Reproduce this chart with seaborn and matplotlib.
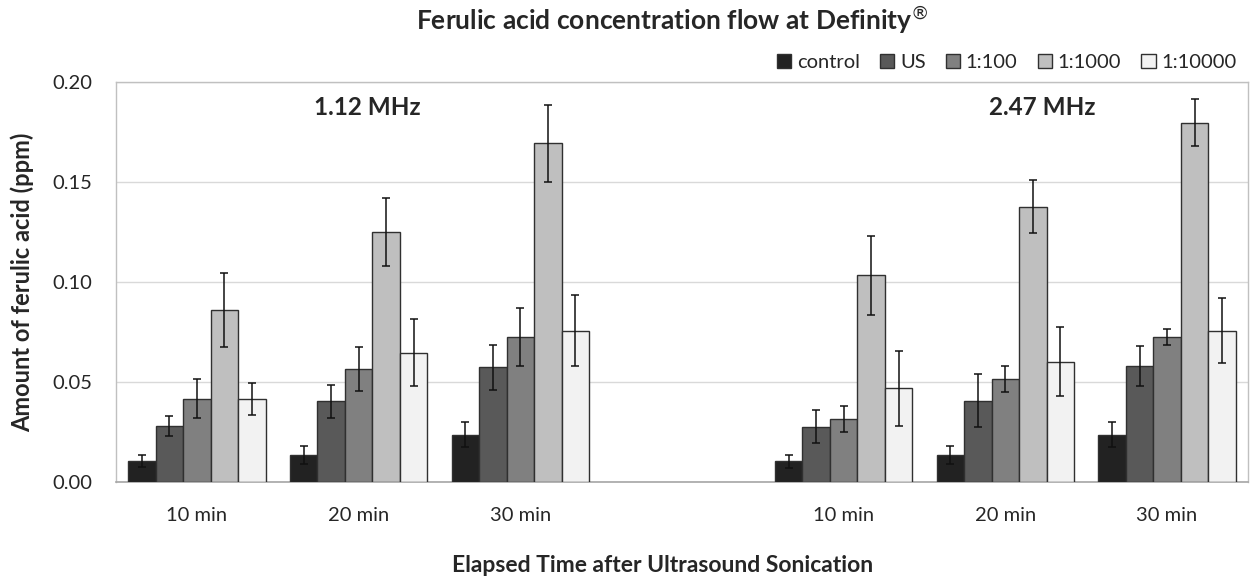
import numpy as np
import pandas as pd
import seaborn as sns
import matplotlib
matplotlib.use("Agg")
import matplotlib.pyplot as plt

# categories on the x axis (one empty slot between the two frequencies)
cat_keys = ["a10", "a20", "a30", "gap", "b10", "b20", "b30"]
cat_labels = ["10 min", "20 min", "30 min", "", "10 min", "20 min", "30 min"]
data_keys = ["a10", "a20", "a30", "b10", "b20", "b30"]
series = ["control", "US", "1:100", "1:1000", "1:10000"]
colors = ["#222222", "#595959", "#808080", "#bfbfbf", "#f2f2f2"]

# mean values (ppm), one list per series, over data_keys
control = [0.0103, 0.0135, 0.0237, 0.0103, 0.0135, 0.0237]
us = [0.0282, 0.0403, 0.0573, 0.0277, 0.0407, 0.0578]
d100 = [0.0417, 0.0565, 0.0725, 0.0315, 0.0513, 0.0727]
d1000 = [0.0860, 0.1250, 0.1693, 0.1033, 0.1377, 0.1797]
d10000 = [0.0417, 0.0647, 0.0757, 0.0468, 0.0602, 0.0757]

# error bar half widths
control_err = [0.0030, 0.0044, 0.0064, 0.0032, 0.0044, 0.0064]
us_err = [0.0050, 0.0084, 0.0113, 0.0083, 0.0132, 0.0100]
d100_err = [0.0098, 0.0110, 0.0144, 0.0064, 0.0065, 0.0040]
d1000_err = [0.0187, 0.0168, 0.0193, 0.0197, 0.0132, 0.0116]
d10000_err = [0.0080, 0.0166, 0.0177, 0.0186, 0.0174, 0.0161]

values = [control, us, d100, d1000, d10000]
errors = [control_err, us_err, d100_err, d1000_err, d10000_err]

rows = []
for s, vals, errs in zip(series, values, errors):
    for k, v, e in zip(data_keys, vals, errs):
        rows.append({"time": k, "series": s, "value": v, "err": e})
df = pd.DataFrame(rows)

sns.set_theme(style="white")
plt.rcParams["font.family"] = ["Lato", "DejaVu Sans"]

fig = plt.figure(figsize=(12.56, 5.8), dpi=100)
ax = fig.add_axes([0.0924, 0.169, 0.9012, 0.6896])

sns.barplot(data=df, x="time", y="value", hue="series", order=cat_keys,
            hue_order=series, palette=colors, errorbar=None, width=0.85,
            edgecolor="#303030", linewidth=1.0, ax=ax, zorder=3)

# error bars, matched to each bar by position
for s, cont in zip(series, ax.containers):
    sub = df[df["series"] == s].set_index("time")
    for bar in cont:
        xc = bar.get_x() + bar.get_width() / 2
        key = cat_keys[int(round(xc))]
        if key not in sub.index:
            continue
        ax.errorbar(xc, sub.loc[key, "value"], yerr=sub.loc[key, "err"],
                    fmt="none", ecolor="#111111", elinewidth=1.1,
                    capsize=3, capthick=1.1, zorder=4)

ax.set_ylim(0, 0.20)
ax.set_yticks([0.0, 0.05, 0.10, 0.15, 0.20])
ax.set_yticklabels(["%.2f" % t for t in [0.0, 0.05, 0.10, 0.15, 0.20]])
ax.set_xlim(-0.5, len(cat_keys) - 0.5)
ax.set_xticks(range(len(cat_keys)))
ax.set_xticklabels(cat_labels)
ax.tick_params(axis="x", length=0, pad=18, labelsize=14.5)
ax.tick_params(axis="y", length=0, pad=17, labelsize=14.5)
ax.grid(axis="y", color="#d9d9d9", linewidth=1.0, zorder=0)
ax.set_axisbelow(True)
for side in ["left", "top", "right"]:
    ax.spines[side].set_color("#c0c0c0")
    ax.spines[side].set_linewidth(1.0)
ax.spines["bottom"].set_color("#a6a6a6")
ax.spines["bottom"].set_linewidth(1.2)

ax.set_xlabel("Elapsed Time after Ultrasound Sonication", fontsize=16.5,
              fontweight="bold", labelpad=0)
ax.xaxis.set_label_coords(0.483, -0.183)
ax.set_ylabel("Amount of ferulic acid (ppm)", fontsize=17, fontweight="bold")
ax.yaxis.set_label_coords(-0.072, 0.5)

ax.text(0.222, 0.9375, "1.12 MHz", transform=ax.transAxes, fontsize=17.5,
        fontweight="bold", ha="center", va="center")
ax.text(0.818, 0.9375, "2.47 MHz", transform=ax.transAxes, fontsize=17.5,
        fontweight="bold", ha="center", va="center")

fig.text(0.535, 0.966, r"Ferulic acid concentration flow at Definity$^{\circledR}$",
         fontsize=19, fontweight="bold", ha="center", va="center")

ax.legend(loc="lower right", bbox_to_anchor=(1.0, 1.0), ncol=5, frameon=False,
          fontsize=14.5, handlelength=0.7, handleheight=0.7, handletextpad=0.3,
          columnspacing=1.0, borderaxespad=0.15)

fig.savefig("out.png", dpi=100)
